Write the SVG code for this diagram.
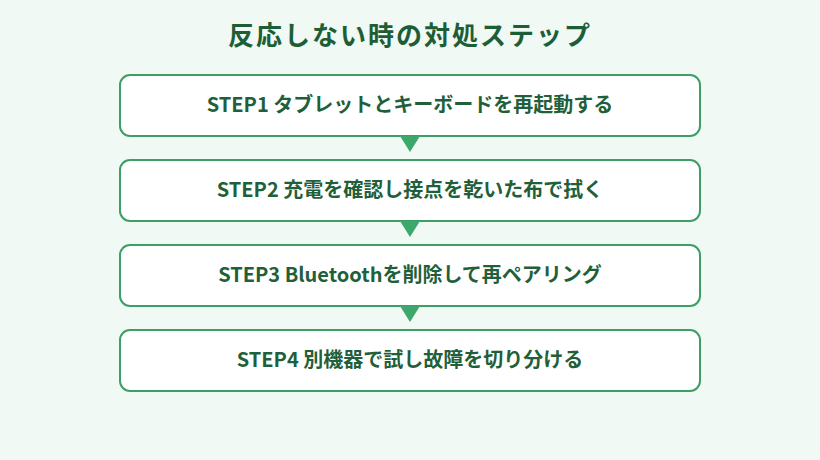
<svg xmlns="http://www.w3.org/2000/svg" width="820" height="460" viewBox="0 0 820 460">
<style>
.bg{fill:#f1f9f4}
.title{font-family:"Noto Sans CJK JP","Noto Sans",sans-serif;font-size:26px;font-weight:700;fill:#1d5e37;letter-spacing:2px}
.box{fill:#ffffff;stroke:#3d9e66;stroke-width:2}
.lbl{font-family:"Noto Sans CJK JP","Noto Sans",sans-serif;font-size:20px;font-weight:700;fill:#1f5f3a}
.arr{fill:#3ea86c}
</style>
<rect class="bg" x="0" y="0" width="820" height="460"/>
<text class="title" x="410" y="45" text-anchor="middle">反応しない時の対処ステップ</text>
<g id="step1"><rect class="box" x="120" y="75" width="580" height="61" rx="10"/><text class="lbl" x="410" y="112" text-anchor="middle">STEP1 タブレットとキーボードを再起動する</text></g>
<g id="step2"><rect class="box" x="120" y="160" width="580" height="61" rx="10"/><text class="lbl" x="410" y="197" text-anchor="middle">STEP2 充電を確認し接点を乾いた布で拭く</text></g>
<g id="step3"><rect class="box" x="120" y="245" width="580" height="61" rx="10"/><text class="lbl" x="410" y="282" text-anchor="middle">STEP3 Bluetoothを削除して再ペアリング</text></g>
<g id="step4"><rect class="box" x="120" y="330" width="580" height="61" rx="10"/><text class="lbl" x="410" y="367" text-anchor="middle">STEP4 別機器で試し故障を切り分ける</text></g>
<g id="connectors">
<polygon class="arr" points="400,136 420,136 410,152"/>
<polygon class="arr" points="400,221 420,221 410,237"/>
<polygon class="arr" points="400,306 420,306 410,322"/>
</g>
</svg>
